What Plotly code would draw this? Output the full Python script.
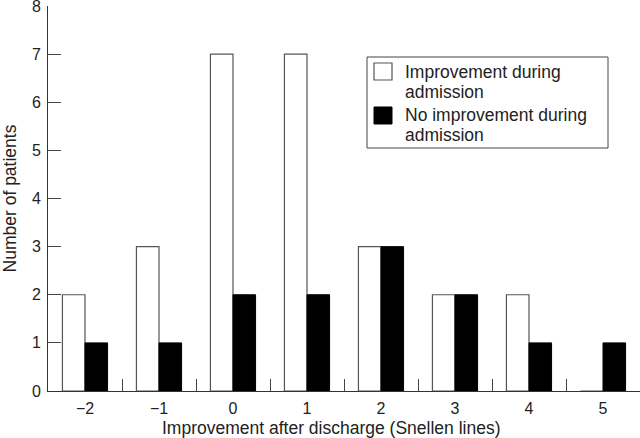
import plotly.graph_objects as go

categories = ["\u22122", "\u22121", "0", "1", "2", "3", "4", "5"]
improved = [2, 3, 7, 7, 3, 2, 2, 0]
not_improved = [1, 1, 2, 2, 3, 2, 1, 1]
y_ticks = [0, 1, 2, 3, 4, 5, 6, 7, 8]
series_names = ["Improvement during<br>admission", "No improvement during<br>admission"]
legend_lines = [["Improvement during", "admission"], ["No improvement during", "admission"]]

FONT = "Liberation Sans, Arial, Helvetica, sans-serif"
W, H = 640, 438
ML, MR, MT, MB = 48, 0, 6, 47


def px(xp):
    return (xp - ML) / (W - ML - MR)


def py(yp):
    return (H - MB - yp) / (H - MT - MB)


fig = go.Figure()
fig.add_trace(go.Bar(
    x=categories, y=improved, name=series_names[0],
    marker=dict(color="white", line=dict(color="#555555", width=1.2)),
))
fig.add_trace(go.Bar(
    x=categories, y=not_improved, name=series_names[1],
    marker=dict(color="black", line=dict(color="black", width=1)),
))

# legend drawn as box + swatches + text, to match the reference sizing
shapes = [
    dict(type="rect", xref="paper", yref="paper",
         x0=px(367), x1=px(608), y0=py(148), y1=py(57),
         line=dict(color="#444444", width=1), fillcolor="white", layer="above"),
    dict(type="rect", xref="paper", yref="paper",
         x0=px(374), x1=px(392), y0=py(80), y1=py(63),
         line=dict(color="#555555", width=1.2), fillcolor="white", layer="above"),
    dict(type="rect", xref="paper", yref="paper",
         x0=px(374), x1=px(392), y0=py(124), y1=py(107),
         line=dict(color="black", width=1), fillcolor="black", layer="above"),
]
annotations = []
line_y = [[72, 92], [115, 135]]
for item, ys in zip(legend_lines, line_y):
    for txt, yy in zip(item, ys):
        annotations.append(dict(
            text=txt, xref="paper", yref="paper", x=px(403), y=py(yy),
            xanchor="left", yanchor="middle", showarrow=False,
            font=dict(size=17.5, color="#222222"),
        ))
annotations.append(dict(
    text="Improvement after discharge (Snellen lines)",
    xref="paper", yref="paper", x=px(331), y=py(428),
    xanchor="center", yanchor="middle", showarrow=False,
    font=dict(size=17.5, color="#222222"),
))

fig.update_layout(
    width=W, height=H,
    margin=dict(l=ML, r=MR, t=MT, b=MB),
    paper_bgcolor="white", plot_bgcolor="white",
    barmode="group", bargap=0.39, bargroupgap=0,
    font=dict(family=FONT, size=16, color="#222222"),
    showlegend=False,
    shapes=shapes,
    annotations=annotations,
)
fig.update_xaxes(
    type="category", range=[-0.5, 7.5], automargin=False,
    tickson="boundaries", ticks="inside", ticklen=12, tickcolor="#444444",
    showline=True, linecolor="#333333", linewidth=1,
    showgrid=False, zeroline=False,
    tickfont=dict(size=16), ticklabelstandoff=3, ticklabeloverflow="allow",
)
fig.update_yaxes(
    range=[0, 8.0001], tickvals=y_ticks, automargin=False,
    ticks="inside", ticklen=13, tickcolor="#444444",
    showline=True, linecolor="#333333", linewidth=1,
    showgrid=False, zeroline=False,
    tickfont=dict(size=16), ticklabelstandoff=3, ticklabeloverflow="allow",
    title=dict(text="Number of patients", font=dict(size=17.5), standoff=10),
)

fig.write_html("out.html", post_script="document.body.style.margin='0';",
               config={"displayModeBar": False})
